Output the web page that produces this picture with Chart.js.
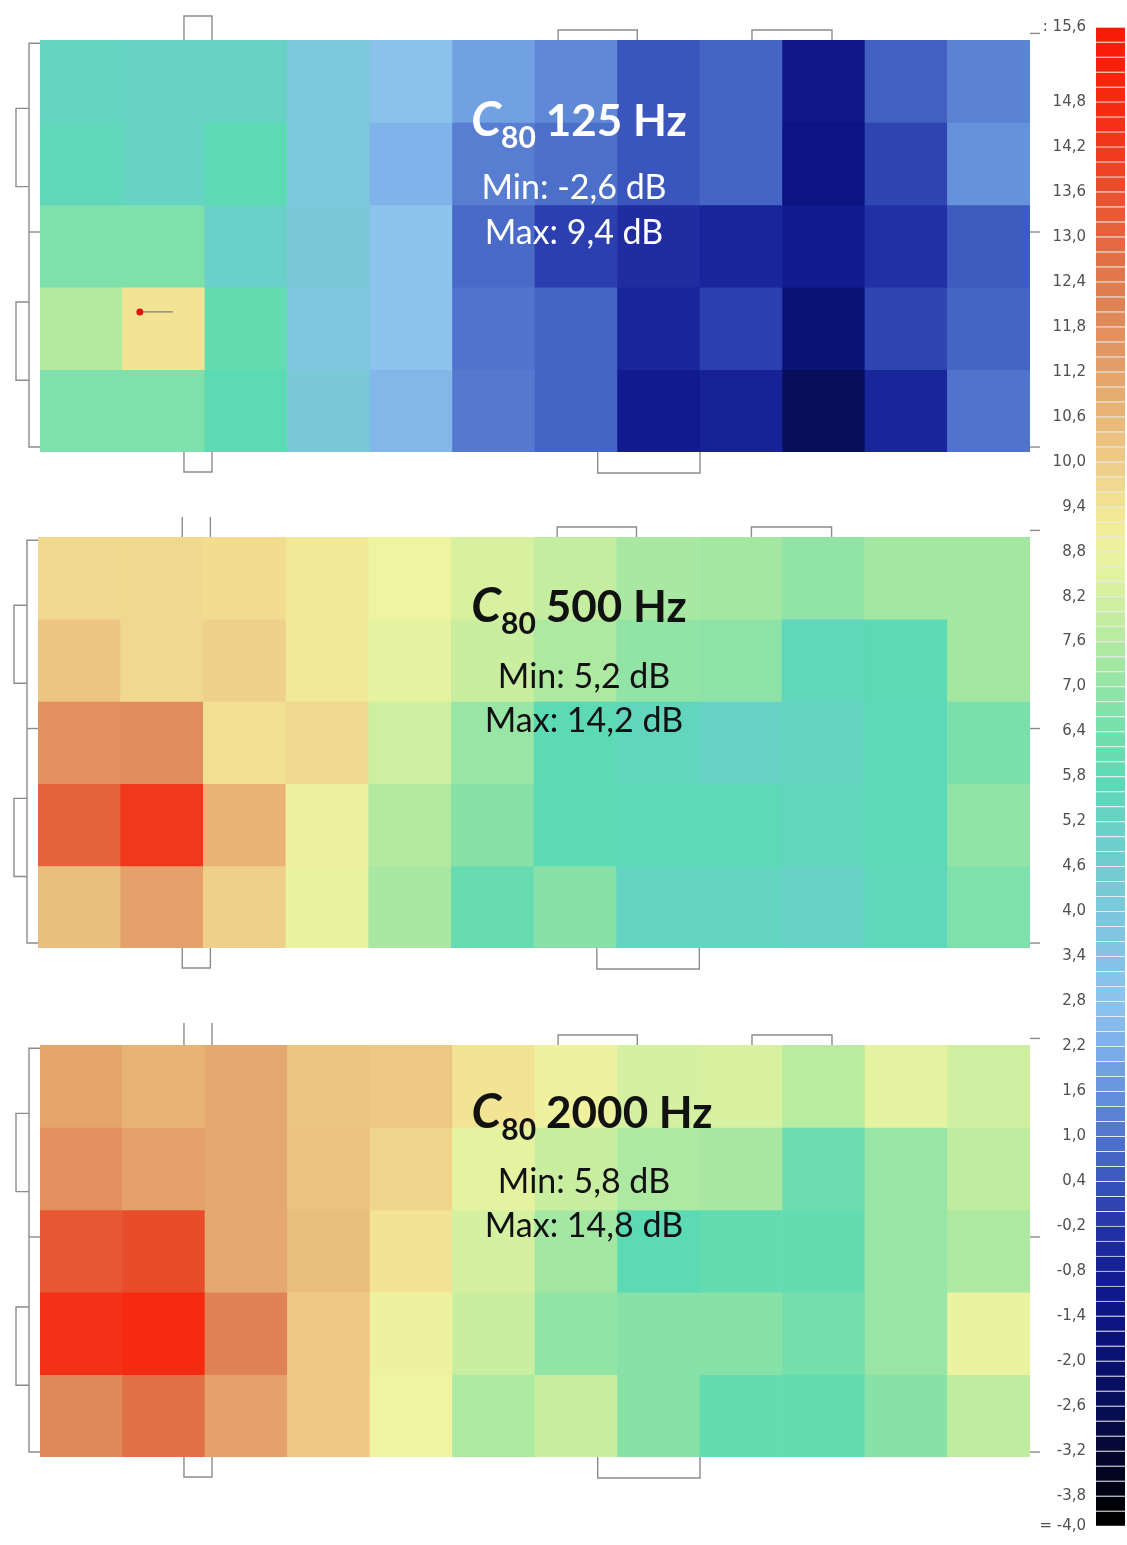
<!DOCTYPE html>
<html lang="de">
<head>
<meta charset="utf-8">
<title>C80 – 125 Hz, 500 Hz, 2000 Hz</title>
<script src="https://cdn.jsdelivr.net/npm/chart.js@4.4.1/dist/chart.umd.min.js"></script>
<style>
  html, body { margin: 0; padding: 0; background: #fff; }
  #sheet { position: relative; width: 1127px; height: 1545px; overflow: hidden; }
  #sheet canvas { position: absolute; }
  .note { position: absolute; width: 420px; text-align: center; white-space: nowrap;
          font-family: Lato, "Open Sans", sans-serif; line-height: 1; }
  .head { font-size: 44px; font-weight: 700; }
  .head .sym { font-style: italic; font-size: 48px; line-height: 0; }
  .head .idx { font-size: 30px; position: relative; top: 12px; margin-right: 10px; line-height: 0; }
  .stat { font-size: 34px; font-weight: 400; }
  .light { color: #fff; }
  .dark { color: #111; }
</style>
</head>
<body>
<div id="sheet">
  <canvas id="p125" width="1050" height="490" style="left:0;top:0"></canvas>
  <canvas id="p500" width="1050" height="500" style="left:0;top:490px"></canvas>
  <canvas id="p2000" width="1050" height="510" style="left:0;top:995px"></canvas>
  <canvas id="scale" width="97" height="1545" style="left:1030px;top:0"></canvas>

  <div class="note head light" style="left:369px;top:97px"><span class="sym">C</span><span class="idx">80</span>125 Hz</div>
  <div class="note stat light" style="left:364px;top:169px">Min: -2,6 dB</div>
  <div class="note stat light" style="left:364px;top:214px">Max: 9,4 dB</div>

  <div class="note head dark" style="left:369px;top:583px"><span class="sym">C</span><span class="idx">80</span>500 Hz</div>
  <div class="note stat dark" style="left:374px;top:658px">Min: 5,2 dB</div>
  <div class="note stat dark" style="left:374px;top:702px">Max: 14,2 dB</div>

  <div class="note head dark" style="left:382px;top:1089px"><span class="sym">C</span><span class="idx">80</span>2000 Hz</div>
  <div class="note stat dark" style="left:374px;top:1163px">Min: 5,8 dB</div>
  <div class="note stat dark" style="left:374px;top:1207px">Max: 14,8 dB</div>
</div>

<script>
// Receiver grid: 12 columns x 5 rows of seats
const columns = ['1', '2', '3', '4', '5', '6', '7', '8', '9', '10', '11', '12'];
const rows = ['A', 'B', 'C', 'D', 'E'];

// C80 in dB per receiver, one array per row (top to bottom)
const c80_125Hz = [
  [5.4, 5.3, 5.3, 4.0, 3.0, 1.9, 1.4, 0.4, 0.7, -1.2, 0.6, 1.3],
  [5.6, 5.3, 5.8, 4.0, 2.3, 1.2, 0.9, 0.4, 0.7, -1.4, 0.1, 1.6],
  [6.6, 6.6, 5.0, 4.2, 2.8, 0.8, 0.0, -0.4, -0.6, -1.0, -0.3, 0.5],
  [7.6, 9.4, 6.0, 3.8, 2.8, 1.0, 0.7, -0.6, 0.0, -1.8, 0.1, 0.7],
  [6.6, 6.6, 5.8, 4.2, 2.4, 1.1, 0.7, -1.0, -0.7, -2.6, -0.6, 1.0]
];
const c80_500Hz = [
  [9.7, 9.7, 9.6, 9.2, 8.8, 8.3, 7.9, 7.4, 7.3, 7.0, 7.3, 7.3],
  [10.2, 9.7, 9.9, 9.2, 8.6, 8.0, 7.5, 7.0, 6.9, 5.6, 5.8, 7.3],
  [11.7, 11.8, 9.5, 9.7, 8.1, 7.1, 5.8, 5.5, 5.2, 5.4, 5.7, 6.5],
  [13.1, 14.2, 10.7, 8.9, 7.6, 6.8, 5.8, 5.7, 5.7, 5.5, 5.7, 7.0],
  [10.4, 11.2, 9.9, 8.7, 7.4, 6.1, 6.8, 5.4, 5.4, 5.2, 5.6, 6.6]
];
const c80_2000Hz = [
  [11.1, 10.7, 11.0, 10.2, 10.1, 9.4, 8.9, 8.2, 8.3, 7.7, 8.6, 8.1],
  [11.7, 11.2, 11.0, 10.3, 9.8, 8.6, 8.0, 7.5, 7.4, 6.2, 7.1, 7.8],
  [13.4, 13.7, 11.0, 10.4, 9.4, 8.2, 7.3, 5.8, 6.0, 6.0, 7.1, 7.5],
  [14.5, 14.8, 12.1, 10.1, 8.9, 8.0, 7.0, 6.8, 6.8, 6.4, 7.1, 8.7],
  [11.9, 12.7, 11.2, 10.1, 8.8, 7.5, 8.0, 6.8, 6.0, 6.0, 6.8, 7.8]
];

// Colour legend: labelled levels (dB)
const legendTicks = [15.6, 14.8, 14.2, 13.6, 13.0, 12.4, 11.8, 11.2, 10.6, 10.0, 9.4, 8.8, 8.2,
  7.6, 7.0, 6.4, 5.8, 5.2, 4.6, 4.0, 3.4, 2.8, 2.2, 1.6, 1.0, 0.4, -0.2, -0.8, -1.4, -2.0,
  -2.6, -3.2, -3.8, -4.0];
const legendStep = 0.2;

// Colour ramp (dB -> colour)
const colorStops = [
  [15.6, '#f81c06'], [14.8, '#f62a10'], [14.2, '#f0381c'], [13.6, '#e8502e'],
  [13.0, '#e4663e'], [12.4, '#e07a4c'], [11.8, '#e08c5c'], [11.2, '#e4a26a'],
  [10.6, '#e8b878'], [10.0, '#eecc88'], [9.4, '#f2e494'], [8.8, '#eef4a0'],
  [8.2, '#d4f0a0'], [7.6, '#b4eaa0'], [7.0, '#92e4a6'], [6.4, '#74deac'],
  [5.8, '#5cdab4'], [5.2, '#68d2c6'], [4.6, '#72ccd0'], [4.0, '#7cc8dc'],
  [3.4, '#84c2e6'], [2.8, '#8cc4ee'], [2.2, '#7eb0e8'], [1.6, '#6692dc'],
  [1.0, '#5074cc'], [0.4, '#3a56bc'], [-0.2, '#2434a8'], [-0.8, '#141e94'],
  [-1.4, '#0c1484'], [-2.0, '#0a1270'], [-2.6, '#080e58'], [-3.2, '#040830'],
  [-3.8, '#010210'], [-4.0, '#000000']
];

function hexToRgb(h) {
  const n = parseInt(h.slice(1), 16);
  return [(n >> 16) & 255, (n >> 8) & 255, n & 255];
}
function colorFor(v) {
  const stops = colorStops;
  if (v >= stops[0][0]) return stops[0][1];
  if (v <= stops[stops.length - 1][0]) return stops[stops.length - 1][1];
  for (let i = 0; i < stops.length - 1; i++) {
    const [v0, c0] = stops[i], [v1, c1] = stops[i + 1];
    if (v <= v0 && v >= v1) {
      const t = (v0 - v) / (v0 - v1);
      const a = hexToRgb(c0), b = hexToRgb(c1);
      const m = a.map((x, k) => Math.round(x + (b[k] - x) * t));
      return `rgb(${m[0]},${m[1]},${m[2]})`;
    }
  }
  return stops[0][1];
}

// Tree brackets around each grid: rows/columns grouped as in the seating plan
const treeDraw = {
  id: 'seatTree',
  afterDraw(chart, args, o) {
    const { ctx, chartArea: a, scales: { x, y } } = chart;
    const X = v => x.getPixelForValue(v);
    const Y = v => y.getPixelForValue(v);
    const path = pts => {
      ctx.beginPath();
      pts.forEach(([px, py], i) => (i ? ctx.lineTo(px, py) : ctx.moveTo(px, py)));
      ctx.stroke();
    };
    ctx.save();
    ctx.strokeStyle = o.color;
    ctx.lineWidth = o.lineWidth;
    // left side
    const L = o.left;
    const xo = a.left - L.outer, xi = a.left - L.inner;
    path([[a.left, Y(L.span[0])], [xo, Y(L.span[0])], [xo, Y(L.span[1])], [a.left, Y(L.span[1])]]);
    path([[xo, Y(L.mid)], [a.left, Y(L.mid)]]);
    L.groups.forEach(([g0, g1]) => path([[xo, Y(g0)], [xi, Y(g0)], [xi, Y(g1)], [xo, Y(g1)]]));
    // top
    o.top.forEach(b => {
      const x0 = X(b.from), x1 = X(b.to), yt = a.top - b.rise;
      if (b.closed) path([[x0, a.top], [x0, yt], [x1, yt], [x1, a.top]]);
      else { path([[x0, a.top], [x0, yt]]); path([[x1, a.top], [x1, yt]]); }
    });
    // bottom
    o.bottom.forEach(b => {
      const x0 = X(b.from), x1 = X(b.to), yb = a.bottom + b.rise;
      path([[x0, a.bottom], [x0, yb], [x1, yb], [x1, a.bottom]]);
    });
    // right side
    o.right.forEach(r => path([[a.right, Y(r)], [a.right + o.stub, Y(r)]]));
    ctx.restore();
  }
};

function panel(id, values, pad, tree, extra) {
  const datasets = values.map((rowVals, r) => ({
    type: 'bar',
    label: rows[r],
    data: rowVals.map((v, c) => ({ x: c + 0.5, y: [r, r + 1], c80: v })),
    backgroundColor: rowVals.map(v => colorFor(v)),
    borderWidth: 0,
    grouped: false,
    barPercentage: 1,
    categoryPercentage: 1
  }));
  if (extra) datasets.push(extra);
  return new Chart(document.getElementById(id), {
    type: 'bar',
    data: { labels: columns, datasets },
    options: {
      responsive: false,
      animation: false,
      layout: { padding: pad },
      scales: {
        x: { type: 'linear', min: 0, max: columns.length, offset: false, display: false, ticks: { stepSize: 1 } },
        y: { type: 'linear', min: 0, max: rows.length, reverse: true, display: false, ticks: { stepSize: 1 } }
      },
      plugins: {
        legend: { display: false },
        tooltip: { enabled: false },
        seatTree: Object.assign({ color: '#8c8c8c', lineWidth: 1.4, stub: 10 }, tree)
      }
    },
    plugins: [treeDraw]
  });
}

const leftTree = { outer: 11, inner: 24, span: [0.04, 4.94], mid: 2.33, groups: [[0.83, 1.78], [3.18, 4.13]] };
const bottomTree = [{ from: 1.745, to: 2.085, rise: 20 }, { from: 6.76, to: 8.0, rise: 21 }];
const rightStubs = [-0.08, 2.33, 4.94];

// sound source in the 125 Hz map
const sourceMark = {
  type: 'line',
  label: 'Quelle',
  order: -1,
  data: [{ x: 1.21, y: 3.30 }, { x: 1.61, y: 3.30 }],
  borderColor: '#6a6a6a',
  borderWidth: 1,
  pointRadius: [3.5, 0],
  pointBackgroundColor: '#e0140a',
  pointBorderColor: '#e0140a',
  pointBorderWidth: 0
};

panel('p125', c80_125Hz, { left: 40, top: 40, right: 20, bottom: 38 }, {
  left: leftTree,
  top: [{ from: 1.745, to: 2.085, rise: 24, closed: true }, { from: 6.28, to: 7.24, rise: 10, closed: true }, { from: 8.63, to: 9.6, rise: 10, closed: true }],
  bottom: bottomTree, right: rightStubs
}, sourceMark);

panel('p500', c80_500Hz, { left: 38, top: 47, right: 20, bottom: 42 }, {
  left: leftTree,
  top: [{ from: 1.745, to: 2.085, rise: 20, closed: false }, { from: 6.28, to: 7.24, rise: 10, closed: true }, { from: 8.63, to: 9.6, rise: 10, closed: true }],
  bottom: bottomTree, right: rightStubs
});

panel('p2000', c80_2000Hz, { left: 40, top: 50, right: 20, bottom: 48 }, {
  left: leftTree,
  top: [{ from: 1.745, to: 2.085, rise: 22, closed: false }, { from: 6.28, to: 7.24, rise: 10, closed: true }, { from: 8.63, to: 9.6, rise: 10, closed: true }],
  bottom: bottomTree, right: rightStubs
});

// Colour legend: one band per 0.2 dB, plus an overflow band at each end
const lowest = legendTicks[legendTicks.length - 1], highest = legendTicks[0];
const bandCount = Math.round((highest - lowest) / legendStep) + 2;
const bands = [];
for (let i = 0; i < bandCount; i++) {
  const lo = +(lowest - legendStep + i * legendStep).toFixed(1);
  bands.push([lo, +(lo + legendStep).toFixed(1)]);
}
const legendLabels = legendTicks.map((v, i) => {
  const s = v.toFixed(1).replace('.', ',');
  if (i === 0) return ': ' + s;
  if (i === legendTicks.length - 1) return '= ' + s;
  return s;
});

new Chart(document.getElementById('scale'), {
  type: 'bar',
  data: {
    labels: [''],
    datasets: bands.map(([lo, hi]) => ({
      data: [[lo, hi]],
      backgroundColor: colorFor((lo + hi) / 2),
      borderColor: '#e9e9e9',
      borderWidth: { top: 1, bottom: 0.6, left: 0, right: 0 },
      borderSkipped: false,
      grouped: false,
      barPercentage: 1,
      categoryPercentage: 1
    }))
  },
  options: {
    responsive: false,
    animation: false,
    layout: { padding: { top: 27, bottom: 8, left: 0, right: 2 } },
    scales: {
      x: { display: false },
      y: {
        position: 'left',
        min: lowest - legendStep,
        max: highest + legendStep,
        grid: { display: false, drawTicks: false },
        border: { display: false },
        afterBuildTicks: s => {
          s.ticks = legendTicks.map((v, i) => ({
            value: i === 0 ? highest + legendStep : (i === legendTicks.length - 1 ? lowest - legendStep : v)
          }));
        },
        afterFit: s => { s.width = 66; },
        ticks: {
          autoSkip: false,
          padding: 10,
          color: '#505050',
          font: { family: 'DejaVu Sans', size: 15 },
          callback: (v, i) => legendLabels[i]
        }
      }
    },
    plugins: { legend: { display: false }, tooltip: { enabled: false } }
  }
});
</script>
</body>
</html>
